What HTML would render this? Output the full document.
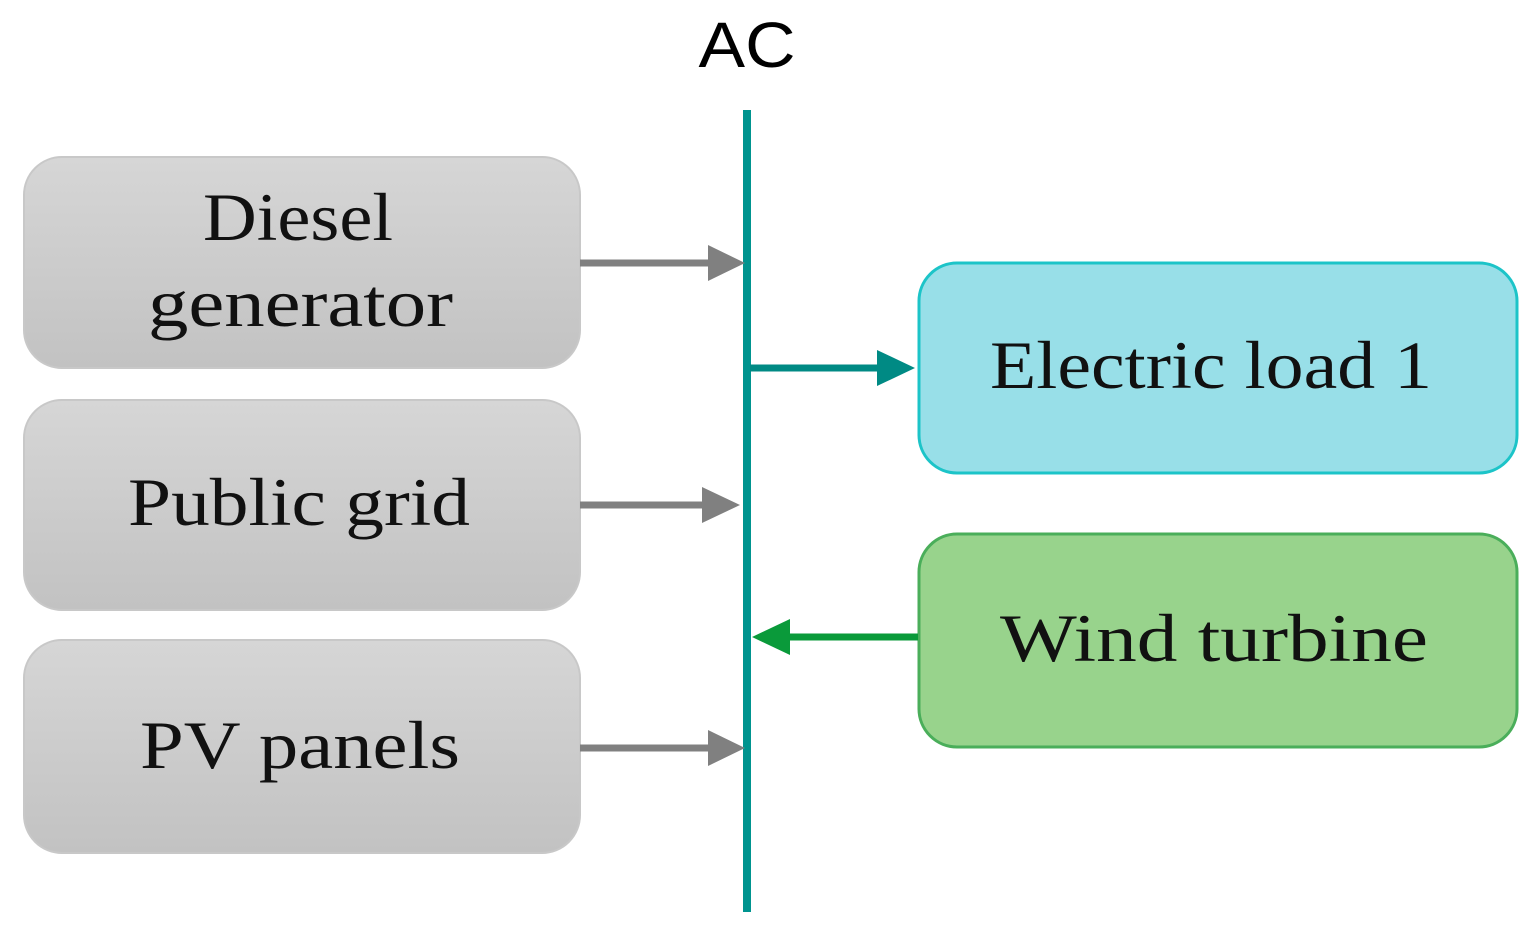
<!DOCTYPE html>
<html><head><style>
html,body{margin:0;padding:0;background:#fff;}
</style></head><body>
<svg width="1535" height="935" xmlns="http://www.w3.org/2000/svg">
<defs>
<linearGradient id="g" x1="0" y1="0" x2="0" y2="1">
<stop offset="0" stop-color="#d6d6d6"/><stop offset="1" stop-color="#c2c2c2"/>
</linearGradient>
</defs>
<text x="747" y="67" font-family="Liberation Sans, sans-serif" font-size="64" text-anchor="middle" fill="#000" textLength="97" lengthAdjust="spacingAndGlyphs">AC</text>
<rect x="24" y="157" width="556" height="211" rx="38" fill="url(#g)" stroke="#c8c8c8" stroke-width="2"/>
<rect x="24" y="400" width="556" height="210" rx="38" fill="url(#g)" stroke="#c8c8c8" stroke-width="2"/>
<rect x="24" y="640" width="556" height="213" rx="38" fill="url(#g)" stroke="#c8c8c8" stroke-width="2"/>
<rect x="919" y="263" width="598" height="210" rx="38" fill="#98dfe8" stroke="#1cc4c8" stroke-width="3"/>
<rect x="919" y="534" width="598" height="213" rx="38" fill="#98d38c" stroke="#4aae5a" stroke-width="3"/>
<g font-family="Liberation Serif, serif" font-size="68" fill="#111" lengthAdjust="spacingAndGlyphs">
<text x="203" y="240" textLength="190" lengthAdjust="spacingAndGlyphs">Diesel</text>
<text x="148" y="326" textLength="305" lengthAdjust="spacingAndGlyphs">generator</text>
<text x="128" y="525" textLength="342" lengthAdjust="spacingAndGlyphs">Public grid</text>
<text x="140" y="768" textLength="320" lengthAdjust="spacingAndGlyphs">PV panels</text>
<text x="990" y="388" textLength="442" lengthAdjust="spacingAndGlyphs">Electric load 1</text>
<text x="1000" y="661" textLength="428" lengthAdjust="spacingAndGlyphs">Wind turbine</text>
</g>
<line x1="747" y1="110" x2="747" y2="912" stroke="#00948f" stroke-width="8"/>
<g fill="#808080" stroke="#808080">
<line x1="580" y1="263" x2="712" y2="263" stroke-width="7"/>
<polygon points="708,245 745,263 708,281" stroke="none"/>
<line x1="580" y1="505" x2="706" y2="505" stroke-width="7"/>
<polygon points="702,487 740,505 702,523" stroke="none"/>
<line x1="580" y1="748" x2="712" y2="748" stroke-width="7"/>
<polygon points="708,730 745,748 708,766" stroke="none"/>
</g>
<line x1="750" y1="368" x2="882" y2="368" stroke="#008a84" stroke-width="7"/>
<polygon points="877,350 915,368 877,386" fill="#008a84"/>
<line x1="918" y1="637" x2="785" y2="637" stroke="#0a9a3a" stroke-width="7"/>
<polygon points="790,619 752,637 790,655" fill="#0a9a3a"/>
</svg>
</body></html>
